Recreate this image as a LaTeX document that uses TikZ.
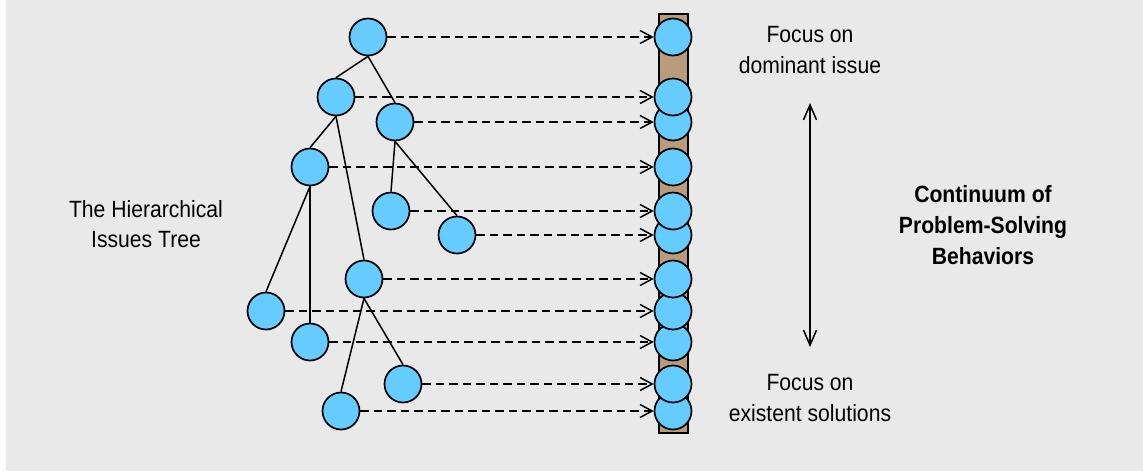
\documentclass[tikz,border=0pt]{standalone}
\usepackage{fontspec}
\setmainfont{Liberation Sans}[FakeStretch=0.9]
\usepackage{xcolor}
\usetikzlibrary{arrows.meta,positioning,calc}
\definecolor{bgGray}{HTML}{E9E9E9}
\definecolor{issueBlue}{HTML}{66CCFF}
\definecolor{barTan}{HTML}{B89C7B}

\begin{document}
\begin{tikzpicture}[x=1pt, y=-1pt,
    issue/.style={circle, draw, line width=1.7pt, fill=issueBlue, minimum size=37pt, inner sep=0pt},
    branch/.style={line width=1.5pt},
    project/.style={line width=1.5pt, dash pattern=on 8.5pt off 5pt, -{Straight Barb[length=12pt, width=13pt]}},
    note/.style={align=center, font=\fontsize{23.5}{30.7}\selectfont, inner sep=0pt}]
    % Background
    \fill[white] (0,0) rectangle (1143,472);
    \fill[bgGray] (6,0) rectangle (1143,471);
    \useasboundingbox (0,0) rectangle (1143,472);

    % Continuum bar
    \draw[line width=1.6pt, fill=barTan] (659,14) rectangle (688,433);

    % Issues tree
    \foreach \n/\x/\y in {1/368/37, 2/336/97, 3/395/122, 4/310/167, 5/391/211, 6/457/235,
                          7/364/279, 8/266/311, 9/310/342, 10/403/384, 11/341/411}
        \node[issue] (t\n) at (\x,\y) {};
    \foreach \p/\c in {1/2, 1/3, 2/4, 2/7, 3/5, 3/6, 4/8, 4/9, 7/10, 7/11}
        \draw[branch] (t\p.south) -- (t\c.north);

    % Points on the continuum (lower ones first)
    \foreach \n/\y in {11/411, 10/384, 9/342, 8/311, 7/279, 6/235, 5/211, 4/167, 3/122, 2/97, 1/37}
        \node[issue] (r\n) at (673,\y) {};

    % Projections onto the continuum
    \foreach \n in {1,...,11}
        \draw[project] (t\n.east) -- (r\n.west);

    % Continuum arrow
    \coordinate (upper) at (810,103);
    \coordinate (lower) at (810,347);
    \draw[line width=1.5pt, {Straight Barb[length=15pt, width=13pt]}-{Straight Barb[length=15pt, width=13pt]}] (upper) -- (lower);

    % Texts
    \node[note] (dominant) at (810,50) {Focus on\\dominant issue};
    \node[note] (existent) at (810,398) {Focus on\\existent solutions};
    \node[note, font=\fontsize{23.5}{30.7}\selectfont\bfseries] (continuum) at (983,225) {Continuum of\\Problem-Solving\\Behaviors};
    \node[note] (treename) at (146,224) {The Hierarchical\\Issues Tree};
\end{tikzpicture}
\end{document}
